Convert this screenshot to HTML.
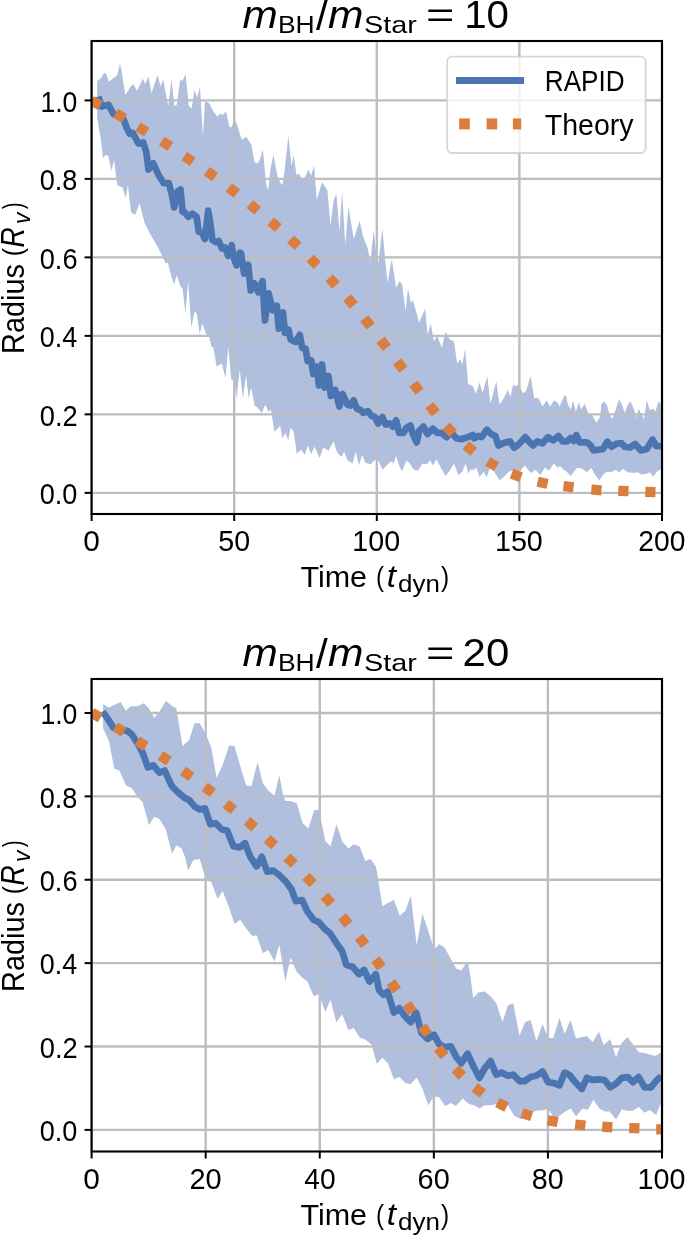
<!DOCTYPE html>
<html><head><meta charset="utf-8"><style>
html,body{margin:0;padding:0;background:#fff;}
svg{display:block;}
svg{will-change:transform;}
</style></head><body>
<svg width="685" height="1236" viewBox="0 0 685 1236" font-family='"Liberation Sans", sans-serif'>
<rect width="685" height="1236" fill="#fff"/>
<g fill="#000"><text transform="translate(242.497,27.7) scale(0.423,0.379)" font-size="100" font-style="italic">m</text><text transform="translate(277.925,32.8) scale(0.265,0.247)" font-size="100">BH</text><text transform="translate(315.9,30.301) scale(0.421,0.409)" font-size="100">/</text><text transform="translate(328.093,27.7) scale(0.426,0.379)" font-size="100" font-style="italic">m</text><text transform="translate(363.99,32.861) scale(0.288,0.244)" font-size="100">Star</text><text transform="translate(425.928,27.285) scale(0.486,0.344)" font-size="100">=</text><text transform="translate(464.129,28.018) scale(0.403,0.391)" font-size="100">10</text></g>
<clipPath id="c0"><rect x="91.6" y="41.0" width="570.4" height="473.0"/></clipPath>
<polygon clip-path="url(#c0)" points="97.2,80.9 100.6,78.4 104,73.1 106,73.6 108.9,81.8 114.2,77.5 117.1,75.5 120,63.4 121.5,70.7 125.4,95 130.7,86.2 133.6,84.3 137,91.1 142.9,78.4 145,84.1 148.6,76.5 151.4,93.3 157.4,74.9 160.7,86.5 163.1,79.3 168.3,106.2 171.5,79.3 174.3,105.8 176.7,105 180.3,79.3 182.3,80.9 185.6,74.5 188.8,105.8 191.6,108.6 194.4,90.1 197.2,97.8 200,86.5 202.9,136.8 205,101 209.2,103.2 213.4,111.6 217.6,116.8 219.7,113.7 222.9,114.7 226.1,111.6 229.2,126.3 231.3,127.4 234.5,119 237.6,126.3 241.8,140 246.1,136.8 251.3,144.2 254.5,162.1 257.6,163.2 259.7,160 262.9,149.5 266,183.2 268.2,190.5 270.3,170.5 273.4,154.7 277.6,176.8 280.8,183.2 282.5,185.3 284.6,170.5 288.4,135.8 291.6,166.3 293.7,154.7 296.4,174.7 298.9,173.7 302.1,179 305.3,176.8 308.4,169.5 311.2,175.8 314.1,165.3 316.8,200 322.1,182.1 327.4,190.5 330.5,225.3 333.7,200 336.4,193.7 339.4,231.6 342.1,191.6 345.3,245.3 348.4,206.3 353.7,239 359.6,221.1 363.2,236.8 367.4,247.4 370.5,261.1 373.7,229.5 375.8,250.5 378.2,264.2 382.4,228.4 385.5,263.2 387.6,282.4 391.8,259 396.1,288 399.2,281.2 402.1,284 405.5,310.8 408,288.5 410.8,302.4 412.9,300.3 419.2,322.4 425.1,308.7 427.6,335 430.8,323.4 433.9,341.3 437.1,336 441.9,347.6 445.5,331.8 449.7,339.2 454,341.3 457.1,363.4 460.3,359.2 462.4,364.5 465.1,348.7 468.1,384.5 470,384.5 473.2,386.6 475.9,394 479.5,382.4 482.6,392.9 487.3,376 490.4,403.4 496.3,381.3 499.5,404.5 503.7,398.2 507.9,389.7 510.4,397.1 513.2,384.5 516.3,386.6 518.4,383.4 522.6,392.9 525.8,391.8 530.6,376 534.2,398.2 538.4,398.2 542.6,406.6 546.8,400.3 550,406.6 554.2,400.3 557.4,402.4 559.5,406.6 564.7,395 566.2,396.4 567.9,404.5 570.8,409.6 573,400.8 575.9,411.8 578.9,402.3 581.1,409.6 584.7,403.7 588.4,413.2 592.7,416.1 596.4,422.7 600,416.9 601.5,403.7 604.4,401.5 607.3,405.9 609.5,414.7 612.4,419.1 615.4,410.3 619,399.3 621.9,404.5 624.9,413.2 627.8,404.5 630.7,401.5 633.6,408.8 636.5,417.6 638.7,408.8 641.6,414.7 644.1,419.1 646.8,400.1 649.7,410.3 653.3,408.8 655.5,411.8 658.4,401.5 661.5,404.5 661.5,468.7 657,471.6 653.3,476.7 649.7,472.3 646.8,473.8 641.6,474.5 638,472.3 633.6,473.1 627.8,472.3 622.7,468.7 619.7,472.3 615.4,470.1 611,472.3 607.3,471.6 603,474.5 599.3,480.4 594.9,474.5 591.3,468 586.9,472.3 581.1,468 576.7,468 570.8,476 565,470.1 564.7,470.8 560.5,466.6 557.4,467.6 553.8,463.4 548.9,470.8 544.7,467.6 540.5,475 535.3,469.7 531.1,472.9 527.9,469.7 524.7,465.5 519.5,471.8 514.2,469.7 508.9,471.8 503.7,477.1 499.5,480.3 494.2,471.8 490,467.6 486.8,477.1 483.7,471.8 479.5,477.1 476.3,467.6 474.2,469.7 470,469.7 468.7,473.9 465.5,463.4 462.4,471.8 458.2,475 454,463.4 449.7,470.8 445.5,476 440.7,467.6 436.5,459.2 432.9,465.5 430.2,460.3 426.6,464.5 422.4,463.4 418.2,470.8 413.9,469.7 409.7,463.4 406.6,460.3 401.9,471.8 399.2,465.5 396.1,456 393.5,463.4 390.8,461.3 386.6,465.5 382.4,469.7 378.2,460.3 374.7,460 370.5,464.5 365.3,462.4 362.1,455 358.9,465.5 355.8,451.8 352.6,463.4 347.4,460.3 344.2,451.8 341.1,457.1 336.8,451.8 333.7,441.3 328.4,450.8 323.2,447.6 319.6,458.2 314.7,446.6 311.2,454 307.8,445.5 304.8,455 301,449.7 296.8,454 293.7,431.8 290.5,427.6 288.4,440.3 285.3,432.9 282.5,438.2 280,425.5 278.7,427.6 274.5,431.8 270.9,409.7 268.2,411.8 265.4,404.5 261.8,412.9 257.6,407.6 254.5,405.5 251.3,387.6 248.6,398.2 246.1,375 242.9,398.2 239.7,369.7 236.6,398.2 234.5,381.3 231.3,379.2 228.2,346.6 225.6,378.2 221.8,363.4 216.6,366.6 213.4,347.6 211.3,346.6 209.2,336 206.1,334 202.3,323.4 199.7,334 196.6,312.9 194.5,311.8 191.3,327.6 188.2,281.3 185.4,313 182.6,288.7 180.5,286.6 176.7,275 174.2,284.5 171.1,276 167.9,262.4 165.8,263.4 162.6,256.8 157.4,246.3 150,233.7 144.7,223.2 139.5,203.2 135.3,214.7 131.1,212.6 127.9,185.3 125.8,197.9 122.6,187.4 117.4,185.3 116.2,177.5 114.2,160 111.3,170.7 108.4,156.1 105.5,155.1 103,158 100.6,137.7 97.2,118" fill="#b0bfdd"/>
<g stroke="#bcbdc1" stroke-width="2.4"><line x1="91.6" y1="41.0" x2="91.6" y2="514.0"/><line x1="234.2" y1="41.0" x2="234.2" y2="514.0"/><line x1="376.8" y1="41.0" x2="376.8" y2="514.0"/><line x1="519.4" y1="41.0" x2="519.4" y2="514.0"/><line x1="662" y1="41.0" x2="662" y2="514.0"/><line x1="91.6" y1="492.85" x2="662.0" y2="492.85"/><line x1="91.6" y1="414.36" x2="662.0" y2="414.36"/><line x1="91.6" y1="335.87" x2="662.0" y2="335.87"/><line x1="91.6" y1="257.38" x2="662.0" y2="257.38"/><line x1="91.6" y1="178.89" x2="662.0" y2="178.89"/><line x1="91.6" y1="100.4" x2="662.0" y2="100.4"/></g>
<polyline clip-path="url(#c0)" points="98.4,96.4 101.6,106.6 108.4,104.7 113.7,114.4 118.4,115.8 123.9,120.2 126.8,128 129.7,133.8 132.7,132.8 138.5,143.5 143.3,142.5 146.3,152.2 148.5,169.5 153.2,163.2 158.4,174.7 163.7,183.2 168.9,183.2 172.1,195.8 174.2,207.4 177.4,191.6 180.5,189.5 182.6,211.6 185,212.6 188.2,216.8 192.4,213.7 196.6,216.8 198.7,231.6 201.8,232.6 205,239 208.2,210.5 210.3,223.2 212.4,240 215.5,242.1 218.7,241 221.8,248.4 225,247.4 228.2,255.8 231.7,245.3 233.4,256.8 236.6,265.3 239.7,252.6 241,253.1 244.1,273.5 248.2,264.8 250.7,290.4 254.3,283.2 258.4,292.4 262.5,281.2 265,320.5 268.6,293.4 272.7,310.3 276.8,305.7 278.8,328.7 282.9,312.3 285,332.8 288.5,329.7 290.6,339.4 295.7,342 299.8,334.8 302.2,348 305.5,348.5 307.6,361 311.2,360.3 313.3,374 316.8,366.6 318.9,385.5 322.1,364.5 324.6,387.6 328.4,376 330.9,396 335.2,389.7 339.4,406.6 342.5,394 347.4,404.5 350.5,405.5 353.7,400.3 356.8,408.7 360,409.7 363.2,412.9 368,411.2 371.6,416 375,417 378.2,423.4 382.4,417.1 385.5,424.5 389.7,423.4 392.9,426.6 396.1,420.3 399.2,432.9 403.4,432.9 406.6,427.6 410.4,425.5 412.9,434 416.7,442.4 419.2,430.8 423.4,426.6 427.6,434 432.9,428.7 437.1,432.9 441.3,432.9 446.6,437.1 450.8,431.8 456.1,438.2 461.3,439.2 467.6,437.1 472.9,435 474.2,438.2 478.4,436 481.6,437.1 486.8,429.7 491.1,434 495.3,436 498.4,445.5 502.6,443.4 505.8,442.4 510,441.3 514.2,447.6 517.4,445.5 520.5,442.4 525.2,437.1 528.9,441.3 533.2,445.5 537.4,441.3 542.6,443.4 547.9,437.1 553.2,440.3 558.4,436 562.6,441.3 567.3,441.3 570.8,438 573.8,441 576.4,435.1 579.6,442.4 583.2,442.4 586.9,442.4 590.5,445.3 593.5,450.4 598.6,449.7 603,449 607.3,441.7 611.7,446.8 616.1,443.9 621.2,443.1 624.9,446.8 630,447.5 635.1,443.9 640.9,450.4 646.8,449 652.6,439.5 656.2,446.1 661.2,446.1" fill="none" stroke="#4a75b1" stroke-width="6.7" stroke-linejoin="round" stroke-linecap="butt"/>
<g clip-path="url(#c0)"><g fill="#d97e3e"><polygon points="98.07,109.94 102.84,100.93 93.83,96.16 89.06,105.17"/><polygon points="121.92,122.75 126.95,113.88 118.08,108.85 113.05,117.72"/><polygon points="144.11,136.41 149.41,127.69 140.69,122.39 135.39,131.11"/><polygon points="167.64,150.85 173.15,142.26 164.56,136.75 159.05,145.34"/><polygon points="189.87,166.08 195.58,157.63 187.13,151.92 181.42,160.37"/><polygon points="212.1,181.21 218.01,172.9 209.7,166.99 203.79,175.3"/><polygon points="233.7,197.66 239.96,189.6 231.9,183.34 225.64,191.4"/><polygon points="254.5,214.58 260.98,206.7 253.1,200.22 246.62,208.1"/><polygon points="274.99,232 281.7,224.31 274.01,217.6 267.3,225.29"/><polygon points="294.52,249.91 301.51,242.48 294.08,235.49 287.09,242.92"/><polygon points="313.65,268.91 320.91,261.75 313.75,254.49 306.49,261.65"/><polygon points="332.32,288.71 339.81,281.78 332.88,274.29 325.39,281.22"/><polygon points="349.92,308.69 357.69,302.08 351.08,294.31 343.31,300.92"/><polygon points="366.55,329.56 374.56,323.25 368.25,315.24 360.24,321.55"/><polygon points="382.84,350.95 390.95,344.76 384.76,336.65 376.65,342.84"/><polygon points="399.26,372.64 407.44,366.54 401.34,358.36 393.16,364.46"/><polygon points="415.43,394.73 423.63,388.67 417.57,380.47 409.37,386.53"/><polygon points="431.65,416.26 439.66,409.95 433.35,401.94 425.34,408.25"/><polygon points="449.5,436.91 456.91,429.9 449.9,422.49 442.49,429.5"/><polygon points="470.55,455.67 476.97,447.75 469.05,441.33 462.63,449.25"/><polygon points="493.96,471.07 499.07,462.24 490.24,457.13 485.13,465.96"/><polygon points="519.31,481.95 522.85,472.39 513.29,468.85 509.75,478.41"/><polygon points="546.51,488.86 548.66,478.89 538.69,476.74 536.54,486.71"/><polygon points="572.89,492.42 574.22,482.31 564.11,480.98 562.78,491.09"/><polygon points="601.09,495.38 601.88,485.21 591.71,484.42 590.92,494.59"/><polygon points="628.3,496.29 628.69,486.1 618.5,485.71 618.11,495.9"/><polygon points="655.31,497.29 655.69,487.09 645.49,486.71 645.11,496.91"/></g></g>
<rect x="91.6" y="41.0" width="570.4" height="473" fill="none" stroke="#000" stroke-width="2.1"/>
<g stroke="#000" stroke-width="2"><line x1="91.6" y1="514.0" x2="91.6" y2="521"/><line x1="234.2" y1="514.0" x2="234.2" y2="521"/><line x1="376.8" y1="514.0" x2="376.8" y2="521"/><line x1="519.4" y1="514.0" x2="519.4" y2="521"/><line x1="662" y1="514.0" x2="662" y2="521"/><line x1="91.6" y1="492.85" x2="84.6" y2="492.85"/><line x1="91.6" y1="414.36" x2="84.6" y2="414.36"/><line x1="91.6" y1="335.87" x2="84.6" y2="335.87"/><line x1="91.6" y1="257.38" x2="84.6" y2="257.38"/><line x1="91.6" y1="178.89" x2="84.6" y2="178.89"/><line x1="91.6" y1="100.4" x2="84.6" y2="100.4"/></g>
<g fill="#000"><text transform="translate(39.743,504.063) scale(0.271,0.294)" font-size="100">0.0</text><text transform="translate(39.734,425.573) scale(0.273,0.294)" font-size="100">0.2</text><text transform="translate(39.751,347.083) scale(0.269,0.294)" font-size="100">0.4</text><text transform="translate(39.739,268.593) scale(0.272,0.294)" font-size="100">0.6</text><text transform="translate(39.74,190.103) scale(0.271,0.294)" font-size="100">0.8</text><text transform="translate(40.375,111.613) scale(0.266,0.294)" font-size="100">1.0</text><text transform="translate(83.281,550.51) scale(0.299,0.297)" font-size="100">0</text><text transform="translate(218.253,550.51) scale(0.286,0.297)" font-size="100">50</text><text transform="translate(352.368,550.51) scale(0.287,0.297)" font-size="100">100</text><text transform="translate(494.968,550.51) scale(0.287,0.297)" font-size="100">150</text><text transform="translate(638.333,550.51) scale(0.282,0.297)" font-size="100">200</text></g>
<g fill="#000"><text transform="translate(300.415,587.11) scale(0.305,0.297)" font-size="100">Time</text><text transform="translate(376.103,586.056) scale(0.241,0.282)" font-size="100">(</text><text transform="translate(386.787,587.495) scale(0.333,0.312)" font-size="100" font-style="italic">t</text><text transform="translate(398.109,592.291) scale(0.26,0.232)" font-size="100">dyn</text><text transform="translate(441.056,586.056) scale(0.245,0.282)" font-size="100">)</text></g>
<g fill="#000" transform="translate(24,351.6) rotate(-90)"><text transform="translate(-2.372,-0.009) scale(0.289,0.316)" font-size="100">Radius</text><text transform="translate(95.38,-1.889) scale(0.245,0.284)" font-size="100">(</text><text transform="translate(104.039,0) scale(0.28,0.333)" font-size="100" font-style="italic">R</text><text transform="translate(127.647,5.9) scale(0.229,0.242)" font-size="100" font-style="italic">v</text><text transform="translate(142.278,-1.889) scale(0.207,0.284)" font-size="100">)</text></g>
<g>
<rect x="447.2" y="56.6" width="198.4" height="96.4" rx="5" ry="5" fill="#fff" fill-opacity="0.8" stroke="#cccccc" stroke-opacity="0.8" stroke-width="1.8"/>
<line x1="456" y1="80.5" x2="524.1" y2="80.5" stroke="#4a75b1" stroke-width="7"/>
<rect x="459.2" y="118.4" width="10.6" height="11" fill="#d97e3e"/>
<rect x="486.6" y="118.4" width="10.6" height="11" fill="#d97e3e"/>
<rect x="512.9" y="118.4" width="8.3" height="11" fill="#d97e3e"/>
<text transform="translate(544.855,91.1) scale(0.261,0.304)" font-size="100">RAPID</text>
<text transform="translate(544.861,134.833) scale(0.285,0.297)" font-size="100">Theory</text>
</g>
<g fill="#000"><text transform="translate(242.497,665.5) scale(0.423,0.379)" font-size="100" font-style="italic">m</text><text transform="translate(277.925,670.6) scale(0.265,0.247)" font-size="100">BH</text><text transform="translate(315.9,668.101) scale(0.421,0.409)" font-size="100">/</text><text transform="translate(328.093,665.5) scale(0.426,0.379)" font-size="100" font-style="italic">m</text><text transform="translate(363.99,670.661) scale(0.288,0.244)" font-size="100">Star</text><text transform="translate(425.928,665.085) scale(0.486,0.344)" font-size="100">=</text><text transform="translate(462.586,665.817) scale(0.42,0.393)" font-size="100">20</text></g>
<clipPath id="c1"><rect x="91.6" y="679.0" width="570.4" height="472.5"/></clipPath>
<polygon clip-path="url(#c1)" points="103.1,704.2 108.9,707.4 120.5,702.1 125.8,710.5 131.1,706.3 137.4,706.3 143.7,703.2 148.9,708.4 154.2,717.9 159.5,711.6 165.8,701.1 171.1,705.3 176.3,708.4 182.6,746.3 189.2,740 194.5,723.2 199.7,723.2 206.1,734.7 211.3,747.4 216.6,777.9 222.9,764.2 229.2,745.3 234.5,746.3 239.7,764.2 246.1,785.3 251.3,786.3 257.6,762.1 262.9,783.2 268.2,790.5 274.5,795.8 279.3,775.2 282.9,793.7 285.3,801.1 290.5,801.1 296.8,803.2 302.7,823.2 308.4,828.4 314.1,810.5 318.9,809.5 325.3,841.1 330.5,846.3 336.4,824.2 342.7,842.1 348.4,848.4 353.7,844.2 359.6,846.3 365.3,861.1 370.5,858.9 375.8,866.4 377.1,872.6 382.4,906.3 387.6,903.2 393.9,900 399.8,915.8 405.5,910.5 410.8,895.8 416.7,945.3 422.4,913.7 427.2,927.4 431.8,942.1 435,948.4 439.2,944.2 444.5,947.4 449.7,956.8 456.1,968.4 461.3,970.5 467.6,961.1 470,973.7 473.2,997.9 478.4,992.6 484.7,991.6 491.1,996.8 496.3,1003.2 502.6,1022.1 507.9,1005.3 513.2,1003.2 519.5,1035.8 525.2,1022.1 530.6,1020 536.3,1041.1 542.6,1024.2 548.3,1037.9 553.2,1037.9 559.5,1017.9 564.7,1033.7 570.5,1020.1 576,1038.4 581.8,1036.9 586.9,1036.2 592.7,1042 598.9,1031.8 603.7,1045 610.3,1039.1 616.1,1057.4 621.2,1043.5 627.5,1036.9 632.9,1044.2 638.7,1052.3 644.6,1053 649.7,1054.5 655.5,1055.9 661.5,1052 661.5,1101 656.2,1115 649.7,1109.9 644.6,1112.8 638.7,1107 632.9,1110.7 627,1110.7 621.9,1109.2 616.1,1119.4 609.5,1111.4 605.1,1111.4 599.3,1108.5 593.5,1099.7 587.6,1109.9 582.5,1108.5 576,1116.5 570.8,1108.5 563.7,1112.6 558.4,1116.8 553.2,1116.8 547.9,1108.4 542.6,1110.5 537.4,1110.5 531.1,1112.6 525.8,1116.8 520.5,1118.9 514.2,1115.8 507.9,1105.3 501.6,1107.4 496.3,1104.2 491.1,1105.3 484.7,1105.3 479.5,1108.4 474.2,1105.3 470,1104.2 467.7,1103 462.6,1098.6 456,1105.9 450.9,1103 445.1,1105.9 439.2,1097.2 434.9,1096.4 431.9,1099.3 428.3,1105.2 422.4,1088.4 416.6,1077.4 410.8,1084 405.7,1083.3 399.1,1076.7 394,1079.6 388.1,1063.6 382.3,1057.7 376.8,1063.7 371.6,1044.7 365.3,1039.5 359.6,1037.4 353.7,1027.9 348.4,1030 342.1,1014.2 336.4,1022.6 330.5,999.5 325.3,1012.1 318.9,994.2 313.7,996.3 307.4,981.6 302.1,977.4 296.8,972.1 290.5,957.4 285.3,981.6 279.3,944.7 274.5,961.6 268.2,950 262.9,953.2 256.6,935.3 252.2,936 246.1,928.2 240.3,919.7 234.5,924 229.2,908 222.7,891 217.6,898.9 211.3,882.1 206.1,880 199.7,858.9 193.4,860 188.2,870.5 185,856.8 181.6,848.4 176.3,845.3 172.1,853.7 165.8,829.5 159.5,818.9 154.2,816.8 148.9,825.3 142.6,802.1 137.4,796.8 132.1,788.4 125.8,785.3 119.5,770.5 114.2,768.4 108.9,741.1 103.1,728.4" fill="#b0bfdd"/>
<g stroke="#bcbdc1" stroke-width="2.4"><line x1="91.6" y1="679.0" x2="91.6" y2="1151.5"/><line x1="205.68" y1="679.0" x2="205.68" y2="1151.5"/><line x1="319.76" y1="679.0" x2="319.76" y2="1151.5"/><line x1="433.84" y1="679.0" x2="433.84" y2="1151.5"/><line x1="547.92" y1="679.0" x2="547.92" y2="1151.5"/><line x1="662" y1="679.0" x2="662" y2="1151.5"/><line x1="91.6" y1="1129.9" x2="662.0" y2="1129.9"/><line x1="91.6" y1="1046.52" x2="662.0" y2="1046.52"/><line x1="91.6" y1="963.14" x2="662.0" y2="963.14"/><line x1="91.6" y1="879.76" x2="662.0" y2="879.76"/><line x1="91.6" y1="796.38" x2="662.0" y2="796.38"/><line x1="91.6" y1="713" x2="662.0" y2="713"/></g>
<polyline clip-path="url(#c1)" points="102.6,711.6 107.9,719 113.2,727.4 119.5,730.5 126.8,730.5 132.1,734.7 137.4,743.2 142.6,752.6 147.9,767.4 153.2,765.3 159.5,772.6 164.7,770.5 168.9,780 172.1,786.3 178.4,792.6 184.7,797.9 189.2,800 194.5,806.3 199.7,809.5 205,808.4 210.3,824.2 215.5,823.2 221.8,829.5 227.1,830.5 233.4,846.3 239.7,847.4 245,843.2 250.3,856.8 256.6,866.3 261.8,856.8 267.1,871.6 273.4,870.5 279.7,875.5 286.3,882.1 291.6,889.5 295.8,901.1 302.1,900 307.4,911.6 313.7,920 318.9,922.1 324.2,928.4 330.5,933.7 336.8,943.7 342.1,951.1 346.3,964.7 352.6,966.8 358.9,974.2 364.2,970 369.5,981.6 375.8,974.2 379.2,990.5 383.4,994.7 387.6,991.6 393.9,1012.6 399.2,1008.4 404.5,1015.8 410.8,1022.1 416.1,1012.6 421.3,1032.6 427.6,1038.9 433.9,1034.7 439.2,1044.2 444.5,1047.4 450.8,1046.3 456.1,1056.8 461.3,1063.2 467.6,1053.7 474,1067.5 479.5,1077.9 484.7,1068.4 490.6,1061.1 496.3,1074.7 501.6,1072.6 507.9,1075.8 513.2,1074.7 519.5,1081.1 524.7,1081.1 531.1,1076.8 536.3,1075.8 542.6,1071.6 547.9,1082.1 554.2,1083.2 559.5,1085.3 564.7,1072.6 569.4,1074.9 575.2,1082.2 581.8,1088.8 586.9,1077.8 592.7,1080 598.6,1079.3 604.4,1080 610.3,1087.3 616.1,1083.6 621.9,1077.8 627.8,1077.1 632.9,1082.2 638.7,1077.1 644.6,1087.3 651.1,1087.3 656.2,1080.7 661.2,1076.4" fill="none" stroke="#4a75b1" stroke-width="6.7" stroke-linejoin="round" stroke-linecap="butt"/>
<g clip-path="url(#c1)"><g fill="#d97e3e"><polygon points="97.81,722.31 103.11,713.59 94.39,708.29 89.09,717.01"/><polygon points="121.14,736.52 126.52,727.86 117.86,722.48 112.48,731.14"/><polygon points="143.16,750.64 148.64,742.04 140.04,736.56 134.56,745.16"/><polygon points="166.13,765.37 171.77,756.87 163.27,751.23 157.63,759.73"/><polygon points="188.38,781.02 194.32,772.72 186.02,766.78 180.08,775.08"/><polygon points="209.71,797.06 215.96,788.99 207.89,782.74 201.64,790.81"/><polygon points="230.53,814.08 236.98,806.17 229.07,799.72 222.62,807.63"/><polygon points="251.46,831.39 258.09,823.64 250.34,817.01 243.71,824.76"/><polygon points="271.2,849.31 278.11,841.8 270.6,834.89 263.69,842.4"/><polygon points="290.57,867.81 297.71,860.53 290.43,853.39 283.29,860.67"/><polygon points="309.34,887.21 316.71,880.16 309.66,872.79 302.29,879.84"/><polygon points="327.56,907 335.2,900.24 328.44,892.6 320.8,899.36"/><polygon points="344.64,927.68 352.48,921.16 345.96,913.32 338.12,919.84"/><polygon points="361.19,947.95 369.25,941.71 363.01,933.65 354.95,939.89"/><polygon points="377.24,970.5 385.6,964.66 379.76,956.3 371.4,962.14"/><polygon points="392.64,993.4 401,987.56 395.16,979.2 386.8,985.04"/><polygon points="408.47,1015.11 416.81,1009.23 410.93,1000.89 402.59,1006.77"/><polygon points="423.93,1037.62 432.22,1031.67 426.27,1023.38 417.98,1029.33"/><polygon points="440.51,1059.17 448.47,1052.79 442.09,1044.83 434.13,1051.21"/><polygon points="458.71,1079.71 466.01,1072.59 458.89,1065.29 451.59,1072.41"/><polygon points="479.83,1097.64 485.94,1089.47 477.77,1083.36 471.66,1091.53"/><polygon points="504.26,1111.65 508.85,1102.54 499.74,1097.95 495.15,1107.06"/><polygon points="530.09,1121.12 533.22,1111.41 523.51,1108.28 520.38,1117.99"/><polygon points="556.74,1127.07 558.67,1117.06 548.66,1115.13 546.73,1125.14"/><polygon points="584.82,1130.62 585.92,1120.48 575.78,1119.38 574.68,1129.52"/><polygon points="612.09,1132.39 612.69,1122.21 602.51,1121.61 601.91,1131.79"/><polygon points="639.17,1133.52 639.62,1123.33 629.43,1122.88 628.98,1133.07"/></g><rect x="656.2" y="1124.2" width="6" height="10.2" fill="#d97e3e"/></g>
<rect x="91.6" y="679.0" width="570.4" height="472.5" fill="none" stroke="#000" stroke-width="2.1"/>
<g stroke="#000" stroke-width="2"><line x1="91.6" y1="1151.5" x2="91.6" y2="1158.5"/><line x1="205.68" y1="1151.5" x2="205.68" y2="1158.5"/><line x1="319.76" y1="1151.5" x2="319.76" y2="1158.5"/><line x1="433.84" y1="1151.5" x2="433.84" y2="1158.5"/><line x1="547.92" y1="1151.5" x2="547.92" y2="1158.5"/><line x1="662" y1="1151.5" x2="662" y2="1158.5"/><line x1="91.6" y1="1129.9" x2="84.6" y2="1129.9"/><line x1="91.6" y1="1046.52" x2="84.6" y2="1046.52"/><line x1="91.6" y1="963.14" x2="84.6" y2="963.14"/><line x1="91.6" y1="879.76" x2="84.6" y2="879.76"/><line x1="91.6" y1="796.38" x2="84.6" y2="796.38"/><line x1="91.6" y1="713" x2="84.6" y2="713"/></g>
<g fill="#000"><text transform="translate(39.743,1141.113) scale(0.271,0.294)" font-size="100">0.0</text><text transform="translate(39.734,1057.733) scale(0.273,0.294)" font-size="100">0.2</text><text transform="translate(39.751,974.353) scale(0.269,0.294)" font-size="100">0.4</text><text transform="translate(39.739,890.973) scale(0.272,0.294)" font-size="100">0.6</text><text transform="translate(39.74,807.593) scale(0.271,0.294)" font-size="100">0.8</text><text transform="translate(40.375,724.213) scale(0.266,0.294)" font-size="100">1.0</text><text transform="translate(83.281,1188.51) scale(0.299,0.297)" font-size="100">0</text><text transform="translate(189.425,1188.51) scale(0.289,0.297)" font-size="100">20</text><text transform="translate(304.313,1188.51) scale(0.282,0.297)" font-size="100">40</text><text transform="translate(417.57,1188.51) scale(0.289,0.297)" font-size="100">60</text><text transform="translate(531.871,1188.51) scale(0.287,0.297)" font-size="100">80</text><text transform="translate(637.568,1188.51) scale(0.287,0.297)" font-size="100">100</text></g>
<g fill="#000"><text transform="translate(300.415,1225.11) scale(0.305,0.297)" font-size="100">Time</text><text transform="translate(376.103,1224.056) scale(0.241,0.282)" font-size="100">(</text><text transform="translate(386.787,1225.495) scale(0.333,0.312)" font-size="100" font-style="italic">t</text><text transform="translate(398.109,1230.291) scale(0.26,0.232)" font-size="100">dyn</text><text transform="translate(441.056,1224.056) scale(0.245,0.282)" font-size="100">)</text></g>
<g fill="#000" transform="translate(24,989.6) rotate(-90)"><text transform="translate(-2.372,-0.009) scale(0.289,0.316)" font-size="100">Radius</text><text transform="translate(95.38,-1.889) scale(0.245,0.284)" font-size="100">(</text><text transform="translate(104.039,0) scale(0.28,0.333)" font-size="100" font-style="italic">R</text><text transform="translate(127.647,5.9) scale(0.229,0.242)" font-size="100" font-style="italic">v</text><text transform="translate(142.278,-1.889) scale(0.207,0.284)" font-size="100">)</text></g>
</svg>
</body></html>
